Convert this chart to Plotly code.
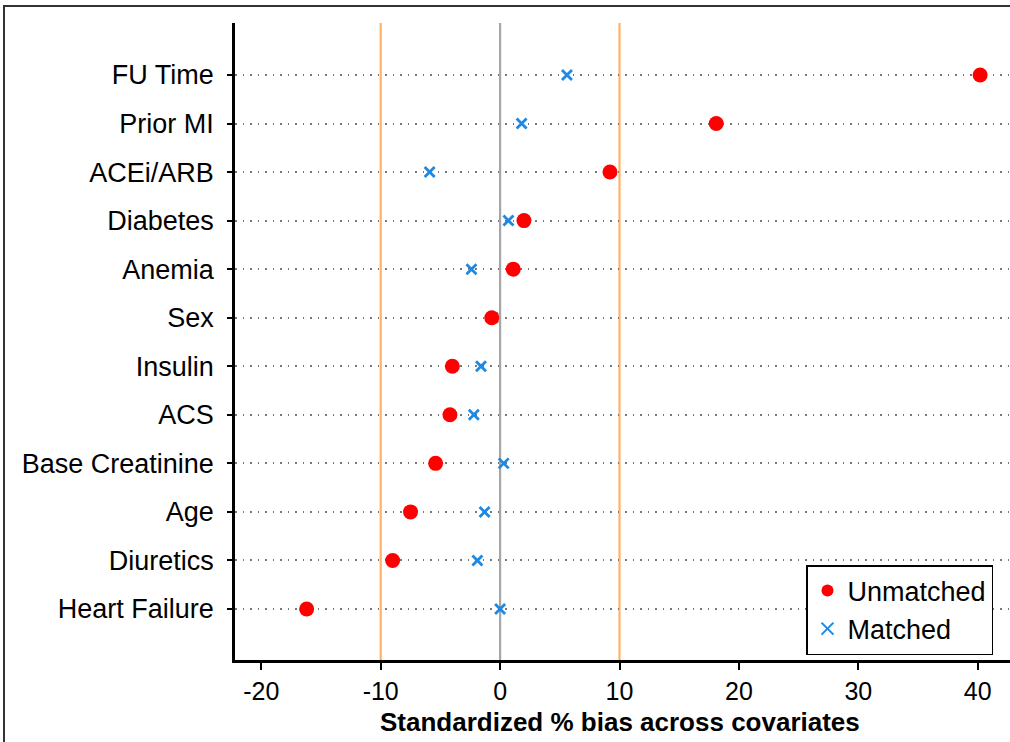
import plotly.graph_objects as go

covariates = ["Heart Failure", "Diuretics", "Age", "Base Creatinine", "ACS", "Insulin",
              "Sex", "Anemia", "Diabetes", "ACEi/ARB", "Prior MI", "FU Time"]
unmatched = [-16.2, -9.0, -7.5, -5.4, -4.2, -4.0, -0.7, 1.1, 2.0, 9.2, 18.1, 40.2]
matched = [0.0, -1.9, -1.3, 0.3, -2.2, -1.6, -0.6, -2.4, 0.7, -5.9, 1.8, 5.6]
x_ticks = [-20, -10, 0, 10, 20, 30, 40]
ref_lines = [-10, 0, 10]
ref_colors = ["#FFB266", "#A6A6A6", "#FFB266"]
x_title = "Standardized % bias across covariates"

ypos = list(range(1, len(covariates) + 1))

fig = go.Figure()
fig.add_trace(go.Scatter(x=matched, y=ypos, mode="markers", name="Matched",
                         marker=dict(symbol="x-thin", size=10, color="#1E88E5",
                                     line=dict(width=2.8, color="#1E88E5")),
                         legendrank=2))
fig.add_trace(go.Scatter(x=unmatched, y=ypos, mode="markers", name="Unmatched",
                         marker=dict(symbol="circle", size=15, color="#FF0000"),
                         legendrank=1))

for v, c in zip(ref_lines, ref_colors):
    fig.add_shape(type="line", xref="x", yref="paper", x0=v, x1=v, y0=0, y1=1,
                  line=dict(color=c, width=2.2), layer="below")

L, R, T, B = 235, 0, 23, 82
W, H = 1010, 742
pw, ph = W - L - R, H - T - B
# outer frame
fig.add_shape(type="rect", xref="paper", yref="paper",
              x0=(4 - L) / pw, x1=(1030 - L) / pw,
              y0=(H - B - 760) / ph, y1=(H - B - 6) / ph,
              line=dict(color="#333333", width=2), layer="below")

fig.add_annotation(text="<b>" + x_title + "</b>", xref="paper", yref="paper",
                   x=(620 - L) / pw, y=(H - B - 722) / ph, xanchor="center", yanchor="middle",
                   showarrow=False, font=dict(size=26))

fig.update_layout(
    width=W, height=H,
    margin=dict(l=L, r=R, t=T, b=B),
    paper_bgcolor="white", plot_bgcolor="white",
    font=dict(family="Liberation Sans, Arial, sans-serif", size=27, color="black"),
    showlegend=True,
    legend=dict(x=(806 - L) / pw, y=(H - B - 565) / ph, xanchor="left", yanchor="top",
                bordercolor="black", borderwidth=1.5, bgcolor="white",
                font=dict(size=27), itemsizing="constant", tracegroupgap=0),
    xaxis=dict(range=[-22.2, 42.7], tickvals=x_ticks, ticktext=[str(t) for t in x_ticks],
               showgrid=False, zeroline=False, showline=True, linecolor="black", linewidth=2.5,
               ticks="outside", ticklen=7, tickwidth=2, tickcolor="black",
               tickfont=dict(size=25)),
    yaxis=dict(range=[-0.05, 13.07], tickvals=ypos, ticktext=covariates,
               showgrid=True, gridcolor="#777777", gridwidth=1.5, griddash="1.5px,6px",
               zeroline=False, showline=True, linecolor="black", linewidth=2.5,
               ticks="outside", ticklen=5, tickwidth=2, tickcolor="black",
               tickfont=dict(size=27), ticklabelstandoff=8),
)

fig.write_html("out.html")
